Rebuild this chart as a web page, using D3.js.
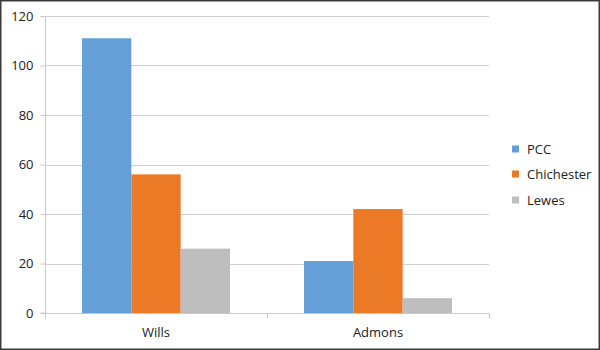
<!DOCTYPE html>
<html><head><meta charset="utf-8">
<script src="https://cdn.jsdelivr.net/npm/d3@7"></script>
<style>body{margin:0;background:#fff}svg{display:block}text{font-family:"Open Sans","Noto Sans",sans-serif;fill:#222}</style>
</head><body>
<svg id="c" width="600" height="350"></svg>
<script>
const categories = ["Wills", "Admons"];
const seriesNames = ["PCC", "Chichester", "Lewes"];
const PCC = [111, 21];
const Chichester = [56, 42];
const Lewes = [26, 6];
const yTicks = [0, 20, 40, 60, 80, 100, 120];
const colors = ["#659fd8", "#eb7a27", "#bebebe"];
const seriesValues = [PCC, Chichester, Lewes];

const svg = d3.select("#c");
svg.append("rect").attr("x",0.75).attr("y",0.75).attr("width",598.5).attr("height",348.5)
  .attr("fill","#fff").attr("stroke","#3a3a3a").attr("stroke-width",1.5);

const pLeft = 45, pRight = 489, pTop = 16, pBottom = 313;
const y = d3.scaleLinear().domain([0,120]).range([pBottom, pTop]);
const x0 = d3.scaleBand().domain(categories).range([pLeft, pRight]).paddingInner(0).paddingOuter(0);
const x1 = d3.scaleBand().domain(seriesNames).range([x0.bandwidth()/6, x0.bandwidth()*5/6]);

// gridlines
svg.append("g").selectAll("line").data(yTicks.filter(d=>d>0)).join("line")
  .attr("x1",pLeft).attr("x2",pRight).attr("y1",d=>Math.round(y(d))+0.5).attr("y2",d=>Math.round(y(d))+0.5)
  .attr("stroke","#d0d0d0").attr("stroke-width",1);

// bars
const g = svg.append("g");
categories.forEach((c,i)=>{
  seriesNames.forEach((s,j)=>{
    const v = seriesValues[j][i];
    g.append("rect").attr("x",x0(c)+x1(s)).attr("width",x1.bandwidth())
      .attr("y",y(v)).attr("height",y(0)-y(v)).attr("fill",colors[j]);
  });
});

// y axis
const ya = svg.append("g").attr("transform",`translate(${pLeft+0.5},0)`)
  .call(d3.axisLeft(y).tickValues(yTicks).tickSize(5).tickPadding(7));
ya.select(".domain").attr("stroke","#c8c8c8").attr("d",`M-5,${pTop+0.5}H0V${pBottom}H-5`);
ya.selectAll(".tick line").attr("stroke","#c8c8c8");
ya.selectAll(".tick text").attr("font-size","13px").attr("fill","#222").style("font-family","'Open Sans','Noto Sans',sans-serif");

// x axis
const xa = svg.append("g").attr("transform",`translate(0,${pBottom+0.5})`);
xa.append("line").attr("x1",pLeft).attr("x2",pRight).attr("stroke","#c8c8c8");
xa.selectAll("line.t").data([pLeft, pLeft+x0.bandwidth(), pRight]).join("line").attr("class","t")
  .attr("x1",d=>Math.round(d)+0.5).attr("x2",d=>Math.round(d)+0.5).attr("y1",0).attr("y2",5).attr("stroke","#c8c8c8");
xa.selectAll("text").data(categories).join("text")
  .attr("x",d=>x0(d)+x0.bandwidth()/2).attr("y",23).attr("text-anchor","middle").attr("font-size","13px").text(d=>d);

// legend
const lg = svg.append("g");
const ly = [149, 174, 200];
seriesNames.forEach((s,j)=>{
  lg.append("rect").attr("x",512).attr("y",ly[j]-3.5).attr("width",7).attr("height",7).attr("fill",colors[j]);
  lg.append("text").attr("x",527).attr("y",ly[j]).attr("dy","0.35em").attr("font-size","13px").text(s);
});
</script>
</body></html>
